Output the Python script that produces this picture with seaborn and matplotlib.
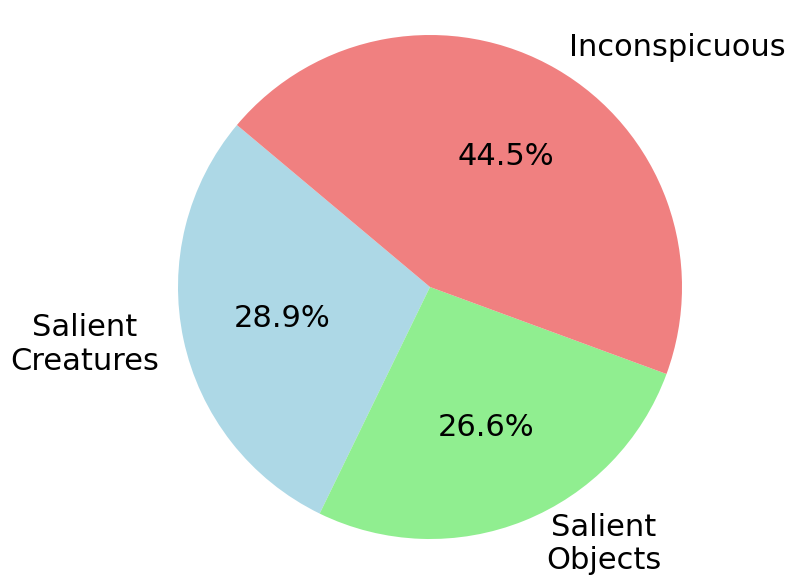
import matplotlib
matplotlib.use('Agg')
import matplotlib.pyplot as plt
import seaborn as sns

# Daten
labels = ['Salient\nCreatures', 'Salient\nObjects', 'Inconspicuous']
shares = [28.9, 26.6, 44.5]
colors = ['lightblue', 'lightgreen', 'lightcoral']

sns.set_theme(style="white")
plt.rcParams['font.family'] = ['DejaVu Sans']

fig = plt.figure(figsize=(7.96, 5.86), dpi=100)
ax = fig.add_axes([0, 0, 1, 1])
wedges, texts, autotexts = ax.pie(shares, labels=labels, colors=colors, autopct='%1.1f%%',
                                  startangle=140, wedgeprops={'linewidth': 0},
                                  textprops={'fontsize': 22, 'color': 'black'})
for t in texts:
    t.set_multialignment('center')
# Beschriftung "Salient Objects" etwas nach rechts
x0, y0 = texts[1].get_position()
texts[1].set_position((x0 + 0.05, y0))

# 1 Einheit = 252 px, Mittelpunkt bei (430, 299) von unten links
ax.set_xlim(-430 / 252, (796 - 430) / 252)
ax.set_ylim(-299 / 252, (586 - 299) / 252)
ax.set_axis_off()

fig.savefig('out.png', dpi=100)
